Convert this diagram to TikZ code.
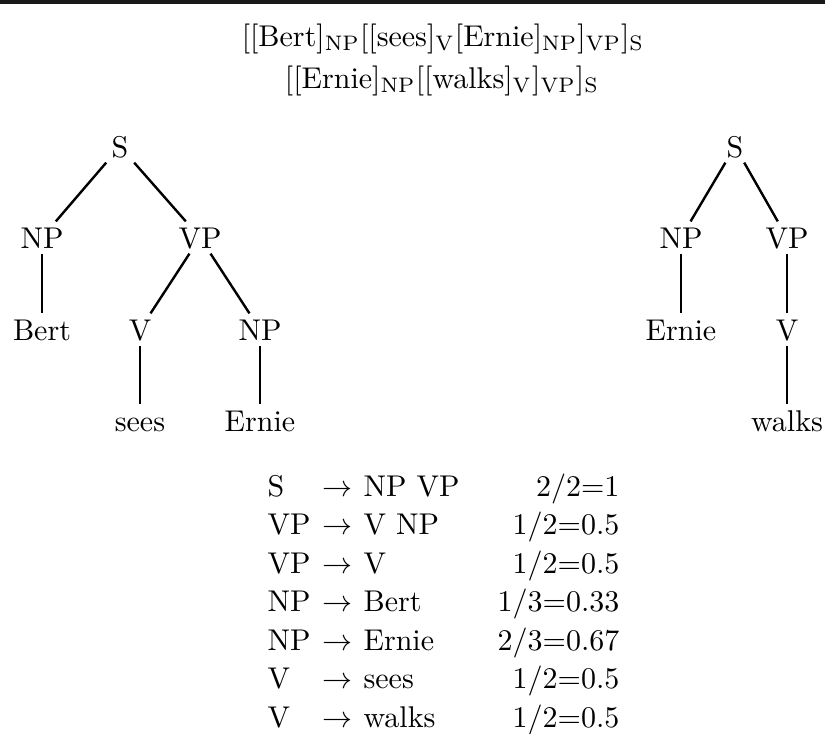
\documentclass[tikz,border=0pt]{standalone}
\usetikzlibrary{positioning}
\newcommand{\sbs}[1]{$_{\mathrm{#1}}$}
\tikzset{
  tn/.style={anchor=base, inner sep=0pt, text height=8.67pt, text depth=1.67pt, minimum width=12pt},
  txt/.style={inner sep=0pt},
  edge/.style={line width=0.8pt},
}
\begin{document}
\begin{tikzpicture}[x=0.33333pt,y=-0.33333pt]
\useasboundingbox (0,0) rectangle (825,733);
\fill[black!90] (0,0) rectangle (825,4);
% titles
\node[txt, anchor=base] (t1) at (443,46) {[[Bert]\sbs{NP}[[sees]\sbs{V}[Ernie]\sbs{NP}]\sbs{VP}]\sbs{S}};
\node[txt, anchor=base] (t2) at (442,88) {[[Ernie]\sbs{NP}[[walks]\sbs{V}]\sbs{VP}]\sbs{S}};
% tree 1
\node[tn] (aS) at (120,157) {S};
\node[tn] (aNP) at (42,248) {NP};
\node[tn] (aVP) at (200,248) {VP};
\node[tn] (aBert) at (42,340) {Bert};
\node[tn] (aV) at (140,340) {V};
\node[tn] (aNP2) at (260,340) {NP};
\node[tn] (asees) at (140,431) {sees};
\node[tn] (aErnie) at (260,431) {Ernie};
\draw[edge] (aS) -- (aNP);
\draw[edge] (aS) -- (aVP);
\draw[edge] (aNP) -- (aBert);
\draw[edge] (aVP) -- (aV);
\draw[edge] (aVP) -- (aNP2);
\draw[edge] (aV) -- (asees);
\draw[edge] (aNP2) -- (aErnie);
% tree 2
\node[tn] (bS) at (735,157) {S};
\node[tn] (bNP) at (681,248) {NP};
\node[tn] (bVP) at (787,248) {VP};
\node[tn] (bErnie) at (681,340) {Ernie};
\node[tn] (bV) at (787,340) {V};
\node[tn] (bwalks) at (787,431) {walks};
\draw[edge] (bS) -- (bNP);
\draw[edge] (bS) -- (bVP);
\draw[edge] (bNP) -- (bErnie);
\draw[edge] (bVP) -- (bV);
\draw[edge] (bV) -- (bwalks);
% grammar table
\foreach \i/\l/\r/\p/\yy in {1/S/NP VP/2\slash 2=1/496, 2/VP/V NP/1\slash 2=0.5/534.5, 3/VP/V/1\slash 2=0.5/573, 4/NP/Bert/1\slash 3=0.33/611.5, 5/NP/Ernie/2\slash 3=0.67/650, 6/V/sees/1\slash 2=0.5/688.5, 7/V/walks/1\slash 2=0.5/727}{
  \node[txt, anchor=base west] (lhs\i) at (267,\yy) {\l};
  \node[txt, anchor=base west] (arr\i) at (322,\yy) {$\rightarrow$};
  \node[txt, anchor=base west] (rhs\i) at (363,\yy) {\r};
  \node[txt, anchor=base east] (prob\i) at (620,\yy) {\p};
}
\end{tikzpicture}
\end{document}
